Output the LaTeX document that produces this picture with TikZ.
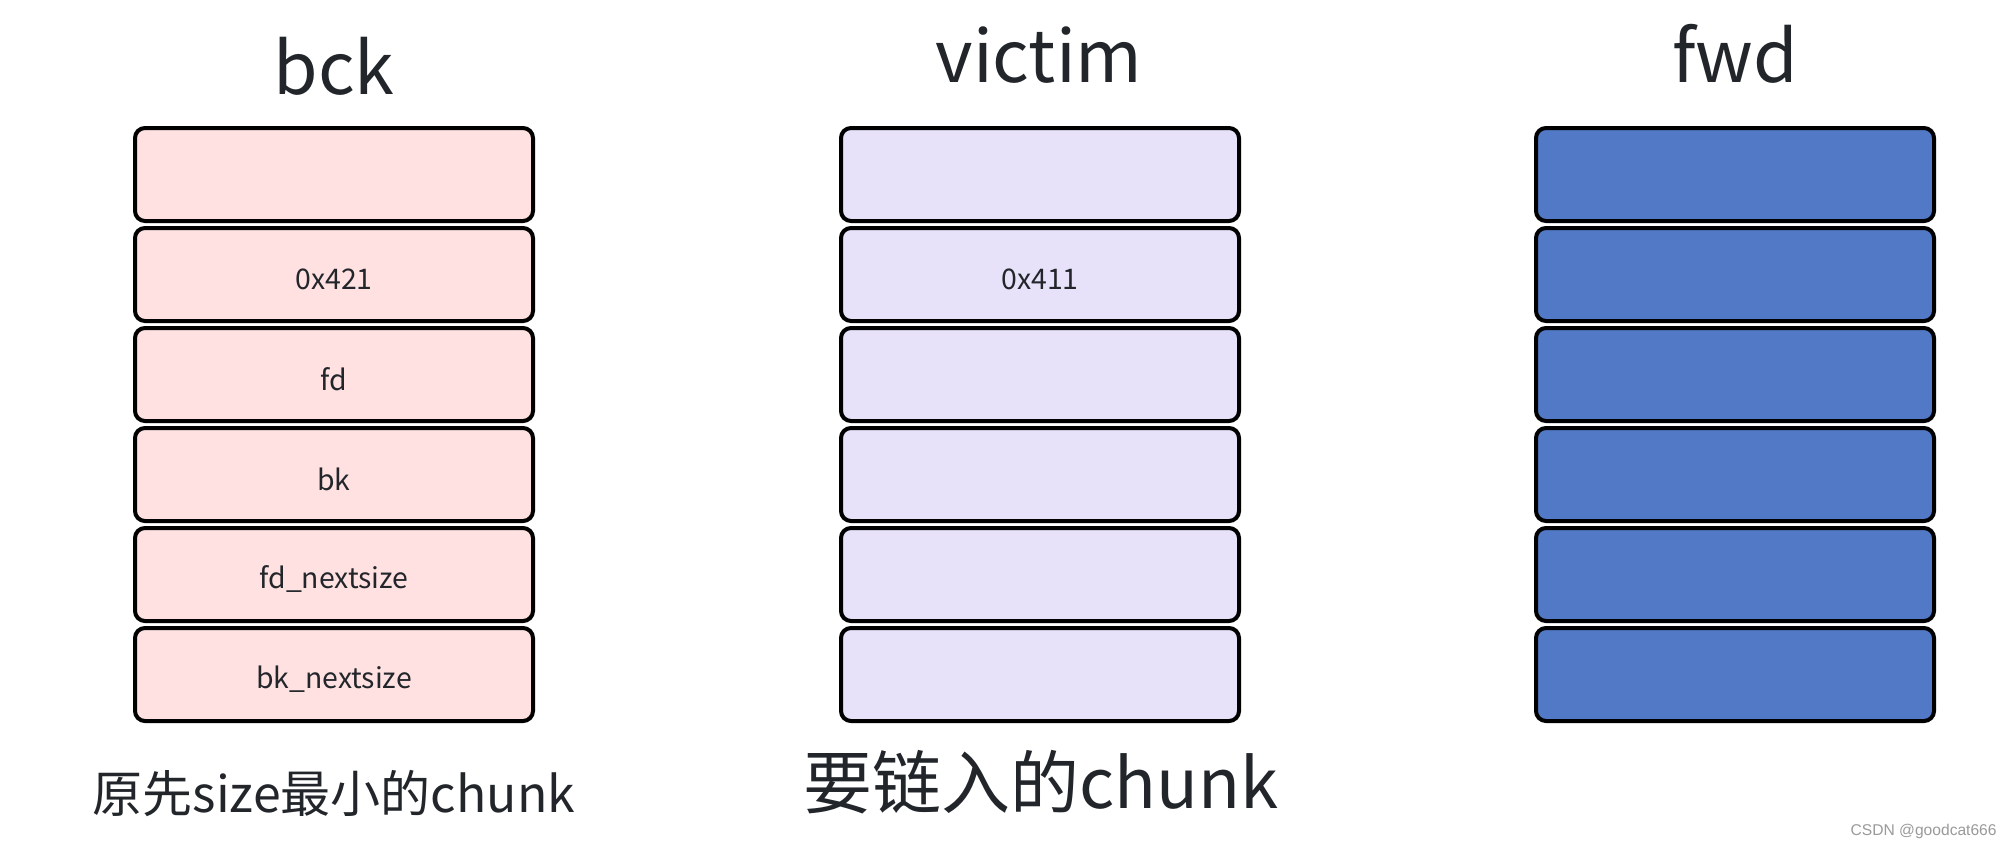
\documentclass[tikz,border=0pt]{standalone}
\usepackage{fontspec}
\setmainfont{Noto Sans CJK SC}
\newfontfamily\wmfont{Liberation Sans}
\definecolor{bckfill}{HTML}{FFE1E1}
\definecolor{vicfill}{HTML}{E8E1FA}
\definecolor{fwdfill}{HTML}{5279C6}
\definecolor{txt}{HTML}{22262B}
\definecolor{wm}{HTML}{9A9A9A}
\newcommand{\celltext}[1]{\raisebox{-2.2pt}[\height][\depth]{#1}}
\tikzset{
  cell/.style={draw=black, line width=2pt, rounded corners=5pt,
    minimum width=199pt, minimum height=46.5pt, inner sep=0pt, outer sep=0pt,
    text=txt, font=\fontsize{14.2}{17}\selectfont},
  bckcell/.style={cell, fill=bckfill},
  viccell/.style={cell, fill=vicfill},
  fwdcell/.style={cell, fill=fwdfill},
  title/.style={anchor=base, inner sep=0pt, text=txt, font=\fontsize{36}{43}\selectfont},
  caption/.style={anchor=base, inner sep=0pt, text=txt},
  watermark/.style={anchor=base east, inner sep=0pt, text=wm, font=\wmfont\fontsize{7.8}{9.5}\selectfont}
}
\begin{document}
\begin{tikzpicture}[x=0.5pt,y=-0.5pt]
\useasboundingbox[fill=white] (0,0) rectangle (2012,848);
% bck column
\node[bckcell] (b1) at (334,174.5) {};
\node[bckcell] (b2) at (334,274.5) {\celltext{0x421}};
\node[bckcell] (b3) at (334,374.5) {\celltext{fd}};
\node[bckcell] (b4) at (334,474.5) {\celltext{bk}};
\node[bckcell] (b5) at (334,574.5) {\celltext{fd\_nextsize}};
\node[bckcell] (b6) at (334,674.5) {\celltext{bk\_nextsize}};
% victim column
\node[viccell] (v1) at (1040,174.5) {};
\node[viccell] (v2) at (1040,274.5) {\celltext{0x411}};
\node[viccell] (v3) at (1040,374.5) {};
\node[viccell] (v4) at (1040,474.5) {};
\node[viccell] (v5) at (1040,574.5) {};
\node[viccell] (v6) at (1040,674.5) {};
% fwd column
\node[fwdcell] (f1) at (1735,174.5) {};
\node[fwdcell] (f2) at (1735,274.5) {};
\node[fwdcell] (f3) at (1735,374.5) {};
\node[fwdcell] (f4) at (1735,474.5) {};
\node[fwdcell] (f5) at (1735,574.5) {};
\node[fwdcell] (f6) at (1735,674.5) {};
% titles
\node[title] (tb) at (334,94) {bck};
\node[title] (tv) at (1039,82) {victim};
\node[title] (tf) at (1735,82) {fwd};
% captions
\node[caption, font=\fontsize{25}{29}\selectfont] (cb) at (334,812) {原先size最小的chunk};
\node[caption, font=\fontsize{34.5}{39}\selectfont] (cv) at (1041,808) {要链入的chunk};
% watermark
\node[watermark] (wmk) at (1997,835) {CSDN @goodcat666};
\end{tikzpicture}
\end{document}
